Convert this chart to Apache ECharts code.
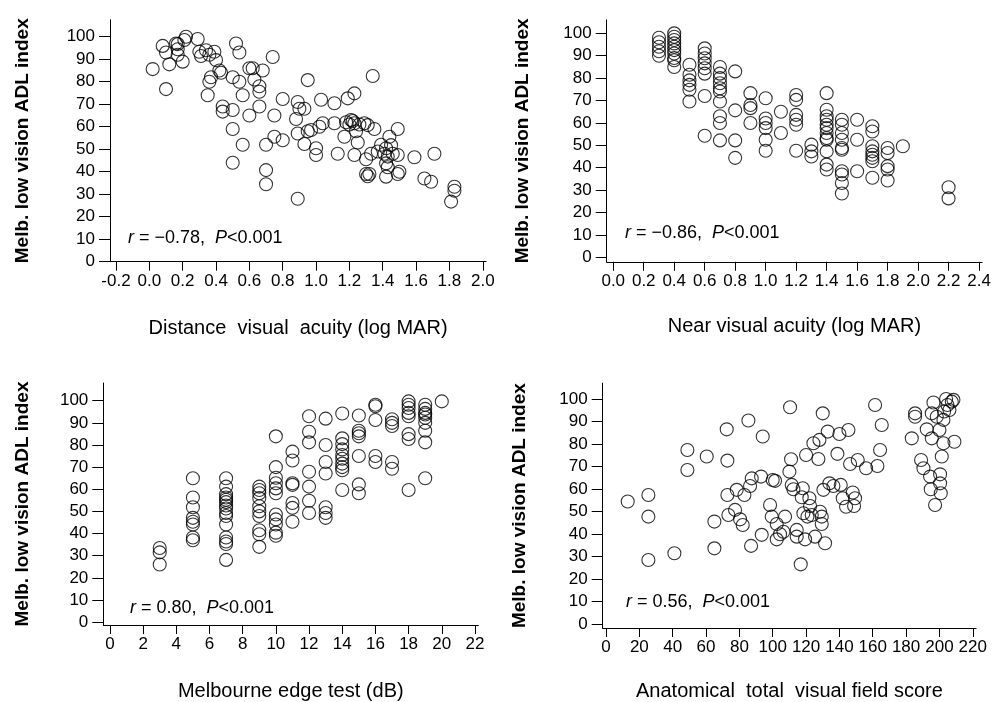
<!DOCTYPE html>
<html>
<head>
<meta charset="utf-8">
<title>Melb. low vision ADL index</title>
<script src="https://cdn.jsdelivr.net/npm/echarts@6/dist/echarts.min.js"></script>
<style>
	html, body { margin: 0; padding: 0; background: #fff; }
	#chart { width: 994px; height: 702px; }
</style>
</head>
<body>
<div id="chart"></div>
<script>
// 各面板数据 [x, y]
var distancePoints = [
	[0.02, 85.6], [0.08, 95.9], [0.10, 93], [0.10, 76.7], [0.12, 87.7], [0.16, 97], [0.17, 94.4],
	[0.17, 96.7], [0.17, 92], [0.20, 88.9], [0.21, 98.5], [0.22, 100], [0.29, 99], [0.30, 93.3],
	[0.31, 91.4], [0.34, 94], [0.36, 92], [0.39, 93.3], [0.40, 89.6], [0.42, 85], [0.43, 84],
	[0.36, 80], [0.37, 82], [0.35, 74], [0.44, 69], [0.44, 66.7], [0.50, 67.4], [0.50, 59],
	[0.50, 44], [0.50, 82], [0.52, 97], [0.54, 93], [0.54, 80], [0.56, 74], [0.56, 52],
	[0.60, 65], [0.60, 86], [0.62, 86], [0.63, 81], [0.66, 78], [0.66, 75.5], [0.68, 85],
	[0.66, 69], [0.70, 52], [0.70, 40.7], [0.70, 34.4], [0.74, 91], [0.75, 65], [0.75, 55.5],
	[0.80, 72.3], [0.80, 54], [0.89, 71], [0.90, 68], [0.88, 63.4], [0.93, 68], [0.89, 57],
	[0.89, 28], [0.95, 80.7], [0.93, 52.3], [0.95, 58], [0.97, 58.5], [1.00, 50.4], [1.00, 47.4],
	[1.02, 60], [1.03, 72], [1.04, 61.5], [1.11, 70.4], [1.11, 61.5], [1.13, 48], [1.17, 55.5],
	[1.19, 72.6], [1.23, 74.8], [1.18, 62], [1.21, 63], [1.23, 61.5], [1.24, 58], [1.25, 53],
	[1.23, 47.4], [1.29, 61.5], [1.31, 60.7], [1.34, 82.5], [1.35, 59], [1.30, 39], [1.32, 39],
	[1.30, 45.5], [1.33, 48], [1.37, 49], [1.39, 52], [1.41, 48], [1.42, 50.4], [1.43, 46.7],
	[1.42, 43.7], [1.43, 42], [1.42, 37.8], [1.44, 55.5], [1.45, 51.8], [1.46, 48], [1.49, 59],
	[1.49, 47.4], [1.50, 40], [1.59, 46.4], [1.65, 37], [1.69, 35.5], [1.71, 48], [1.83, 33.3],
	[1.83, 31.5], [1.81, 26.7], [1.20, 61], [1.22, 62.5], [1.26, 61], [1.31, 38], [1.49, 39]
];
var nearPoints = [
	[0.3, 98], [0.3, 96], [0.3, 94], [0.3, 92], [0.3, 90],
	[0.4, 100], [0.4, 98.5], [0.4, 97], [0.4, 95.5], [0.4, 94], [0.4, 92.5], [0.4, 91], [0.4, 89], [0.4, 88], [0.4, 85],
	[0.5, 86], [0.5, 81.5], [0.5, 79], [0.5, 77], [0.5, 74.8], [0.5, 69.6],
	[0.6, 93.3], [0.6, 91], [0.6, 88.9], [0.6, 86.6], [0.6, 84.4], [0.6, 82], [0.6, 72], [0.6, 54.3],
	[0.7, 85], [0.7, 82], [0.7, 80], [0.7, 77.7], [0.7, 75.5], [0.7, 74], [0.7, 69.6], [0.7, 63], [0.7, 60], [0.7, 52.2],
	[0.8, 83], [0.8, 65.6], [0.8, 52.2], [0.8, 44.4],
	[0.9, 73.3], [0.9, 68], [0.9, 66.6], [0.9, 60],
	[1.0, 71], [1.0, 62], [1.0, 60], [1.0, 57.7], [1.0, 52.5], [1.0, 47.6],
	[1.1, 65], [1.1, 55.5],
	[1.2, 72.5], [1.2, 70.3], [1.2, 63.6], [1.2, 61.4], [1.2, 59.2], [1.2, 47.6],
	[1.3, 50.3], [1.3, 47.3], [1.3, 45],
	[1.4, 73.3], [1.4, 65.9], [1.4, 63], [1.4, 61.4], [1.4, 59.2], [1.4, 57.7], [1.4, 55.5], [1.4, 53.3], [1.4, 52.5], [1.4, 47.3], [1.4, 41.4], [1.4, 39.2],
	[1.5, 61.4], [1.5, 59.2], [1.5, 55.5], [1.5, 52.5], [1.5, 48.8], [1.5, 48], [1.5, 38.4], [1.5, 37], [1.5, 33.2], [1.5, 28.5],
	[1.6, 61.4], [1.6, 52.5], [1.6, 38.4],
	[1.7, 58.5], [1.7, 56.2], [1.7, 49.6], [1.7, 47.3], [1.7, 45.8], [1.7, 44.4], [1.7, 42.9], [1.7, 35.5],
	[1.8, 48.8], [1.8, 46.6], [1.8, 40.7], [1.8, 39.2], [1.8, 34.3],
	[1.9, 49.6],
	[2.2, 31.3], [2.2, 26.3]
];
var edgePoints = [
	[3, 33.5], [3, 31.5], [3, 26],
	[5, 65], [5, 56.3], [5, 51.9], [5, 47.1], [5, 45.3], [5, 44.1], [5, 38.2], [5, 37],
	[7, 65], [7, 61.2], [7, 57.8], [7, 56.3], [7, 55.3], [7, 54.2], [7, 52.7], [7, 51.3], [7, 49.3], [7, 47.9], [7, 44.1], [7, 38.2], [7, 36.4], [7, 35.3], [7, 28.1],
	[9, 61.2], [9, 59.7], [9, 58.2], [9, 56], [9, 52.3], [9, 50], [9, 47.9], [9, 41.5], [9, 39.7], [9, 34],
	[10, 83.9], [10, 70], [10, 65.2], [10, 62.7], [10, 60.4], [10, 58.2], [10, 48.6], [10, 46.4], [10, 44.1], [10, 40.4], [10, 39],
	[11, 77], [11, 73], [11, 62.7], [11, 62], [11, 53.8], [11, 51.6], [11, 45.3],
	[12, 93], [12, 86], [12, 81.2], [12, 67.9], [12, 61.2], [12, 54.8], [12, 49.3],
	[13, 91.9], [13, 80], [13, 72.3], [13, 67.1], [13, 51.9], [13, 49.3], [13, 47.1],
	[14, 94.2], [14, 83], [14, 80.4], [14, 78], [14, 75.5], [14, 73.8], [14, 71.6], [14, 70], [14, 68.6], [14, 59.7],
	[15, 93.3], [15, 86.4], [15, 85.3], [15, 83.9], [15, 75], [15, 62.2], [15, 58.2],
	[16, 98.2], [16, 97.5], [16, 91.3], [16, 75], [16, 72.3],
	[17, 91.6], [17, 90], [17, 88.6], [17, 72.3], [17, 69.3],
	[18, 99.7], [18, 98.2], [18, 96.7], [18, 94.5], [18, 93], [18, 84.9], [18, 82.7], [18, 59.7],
	[19, 98.2], [19, 96.3], [19, 94.5], [19, 93.8], [19, 92.3], [19, 90], [19, 86.4], [19, 81.2], [19, 65],
	[20, 99.7]
];
var fieldPoints = [
	[13, 54.4], [25.4, 57.3], [25.4, 47.7], [25.4, 28.4], [41, 31.4], [48.8, 77.3], [48.8, 68.4],
	[60.4, 74.4], [65, 45.5], [65, 33.6], [72.4, 86.5], [72.8, 72.6], [72.8, 57.3], [73.4, 48.4],
	[77.4, 50.7], [78.4, 59.6], [80.4, 46.5], [82, 44], [83, 57.3], [85.4, 90.4], [86.4, 61.3],
	[87.4, 64.7], [87, 34.7], [93.4, 39.6], [94, 83.3], [93, 65.5], [98.4, 52.9], [99.4, 47.7],
	[100, 64], [101.4, 63.6], [102.4, 44.4], [102.4, 37.6], [104.4, 39.9], [106.4, 41], [107.4, 47.7],
	[110, 67.7], [111, 73.2], [110.4, 96.3], [111.4, 61.8], [112.4, 59.9], [114.4, 41.8], [114.4, 38.8],
	[116.8, 26.5], [118, 60.3], [117.4, 56.3], [118.4, 49.2], [119.4, 37.6], [120, 75.1], [120.8, 47.7],
	[122, 55.9], [122.4, 52.4], [123.4, 48.4], [124.4, 80.3], [125.4, 38.8], [127.4, 73.3], [128, 81.8],
	[128.4, 49.9], [129.4, 47.7], [129.4, 44.4], [130, 93.6], [130.4, 59.6], [131.4, 35.9], [133, 85.5],
	[134, 62.5], [136.4, 61.3], [138.8, 75.6], [140, 84.4], [140.8, 61.8], [142, 55.9], [144, 52.1],
	[145.4, 86.2], [146.4, 71.1], [148, 58.4], [148.8, 52.4], [149.4, 55.9], [151, 72.9], [156, 69.2],
	[161.4, 97.3], [162.8, 70.2], [164.4, 77.3], [165.4, 88.4], [183.4, 82.5], [185.4, 93.6], [185.4, 92.1],
	[189, 72.9], [190.4, 69.2], [192.4, 86.5], [194.4, 65.5], [194.8, 59.9], [195.4, 82.5], [195.4, 93.6],
	[196.4, 98.4], [197.4, 52.9], [198.4, 92.1], [200, 86.2], [200.4, 66.5], [200.4, 62.5], [200.8, 58.1],
	[201.4, 74.4], [202.4, 90.7], [202.4, 80.3], [202.8, 94.4], [204, 100], [204.8, 97.3], [206, 95.1],
	[207.4, 98.8], [208.4, 99.6], [209, 81]
];

// 刻度值
var yTicks = [0, 10, 20, 30, 40, 50, 60, 70, 80, 90, 100];
var distanceTicks = [-0.2, 0.0, 0.2, 0.4, 0.6, 0.8, 1.0, 1.2, 1.4, 1.6, 1.8, 2.0];
var nearTicks = [0.0, 0.2, 0.4, 0.6, 0.8, 1.0, 1.2, 1.4, 1.6, 1.8, 2.0, 2.2, 2.4];
var edgeTicks = [0, 2, 4, 6, 8, 10, 12, 14, 16, 18, 20, 22];
var fieldTicks = [0, 20, 40, 60, 80, 100, 120, 140, 160, 180, 200, 220];
var xDecimals = [1, 1, 0, 0];
var xNames = ['Distance  visual  acuity (log MAR)', 'Near visual acuity (log MAR)', 'Melbourne edge test (dB)', 'Anatomical  total  visual field score'];
var yName = 'Melb. low vision ADL index';
var stats = [['\u22120.78', '<0.001'], ['\u22120.86', '<0.001'], ['0.80', '<0.001'], ['0.56', '<0.001']];

(function() {
	var font = '"Liberation Sans", Arial, Helvetica, sans-serif';
	// 每个面板: 轴范围 与 像素位置
	var panels = [
		{ xMin: -0.236, xMax: 2.02, yMin: 0, yMax: 107.5, left: 110, top: 19.8, width: 376.1, height: 241.9, yGap: 78, xGap: 57 },
		{ xMin: -0.043, xMax: 2.42, yMin: -2, yMax: 106, left: 606.7, top: 19.9, width: 375.4, height: 241.9, yGap: 74, xGap: 55 },
		{ xMin: -0.4, xMax: 22.2, yMin: -1.3, yMax: 108, left: 103.3, top: 383, width: 375, height: 246, yGap: 71, xGap: 56 },
		{ xMin: -2, xMax: 222, yMin: -1.8, yMax: 107, left: 602.7, top: 383.2, width: 373.4, height: 244.8, yGap: 73, xGap: 53 }
	];
	var xTickLists = [distanceTicks, nearTicks, edgeTicks, fieldTicks];
	var statPos = [[128, 229], [625, 224], [130, 599], [626, 593]];
	var allPoints = [distancePoints, nearPoints, edgePoints, fieldPoints];

	var grids = [], xAxes = [], yAxes = [], series = [], graphics = [];
	for(var i = 0; i < 4; i++) {
		(function(i) {
			var p = panels[i];
			grids.push({ left: p.left, top: p.top, width: p.width, height: p.height });
			xAxes.push({
				type: 'value',
				gridIndex: i,
				min: p.xMin,
				max: p.xMax,
				name: xNames[i],
				nameLocation: 'middle',
				nameGap: p.xGap,
				nameTextStyle: { fontFamily: font, fontSize: 20, color: '#000' },
				splitLine: { show: false },
				axisLine: { onZero: false, lineStyle: { color: '#000', width: 1 } },
				axisTick: { length: 9, customValues: xTickLists[i], lineStyle: { color: '#000' } },
				axisLabel: {
					fontFamily: font,
					fontSize: 17,
					color: '#000',
					margin: 11,
					customValues: xTickLists[i],
					formatter: function(v) { return v.toFixed(xDecimals[i]); }
				}
			});
			yAxes.push({
				type: 'value',
				gridIndex: i,
				min: p.yMin,
				max: p.yMax,
				name: yName,
				nameLocation: 'middle',
				nameGap: p.yGap,
				nameTextStyle: { fontFamily: font, fontSize: 19, fontWeight: 'bold', color: '#000' },
				splitLine: { show: false },
				axisLine: { show: true, onZero: false, lineStyle: { color: '#000', width: 1 } },
				axisTick: { show: true, length: 11, customValues: yTicks, lineStyle: { color: '#000' } },
				axisLabel: {
					fontFamily: font,
					fontSize: 17,
					color: '#000',
					margin: 15,
					customValues: yTicks
				}
			});
			series.push({
				type: 'scatter',
				xAxisIndex: i,
				yAxisIndex: i,
				data: allPoints[i],
				symbol: 'circle',
				symbolSize: 13,
				silent: true,
				itemStyle: {
					color: 'rgba(0,0,0,0)',
					borderColor: '#000',
					borderWidth: 1.1
				}
			});
			graphics.push({
				type: 'text',
				left: statPos[i][0],
				top: statPos[i][1],
				style: {
					text: '{i|r} = ' + stats[i][0] + ',  {i|P}' + stats[i][1],
					font: '18px ' + font,
					fill: '#000',
					rich: {
						i: { fontStyle: 'italic', fontSize: 18, fontFamily: font }
					}
				}
			});
		})(i);
	}

	var option = {
		backgroundColor: '#fff',
		animation: false,
		grid: grids,
		xAxis: xAxes,
		yAxis: yAxes,
		series: series,
		graphic: graphics
	};
	var myChart = echarts.init(document.getElementById('chart'));
	myChart.setOption(option);
})();
</script>
</body>
</html>
